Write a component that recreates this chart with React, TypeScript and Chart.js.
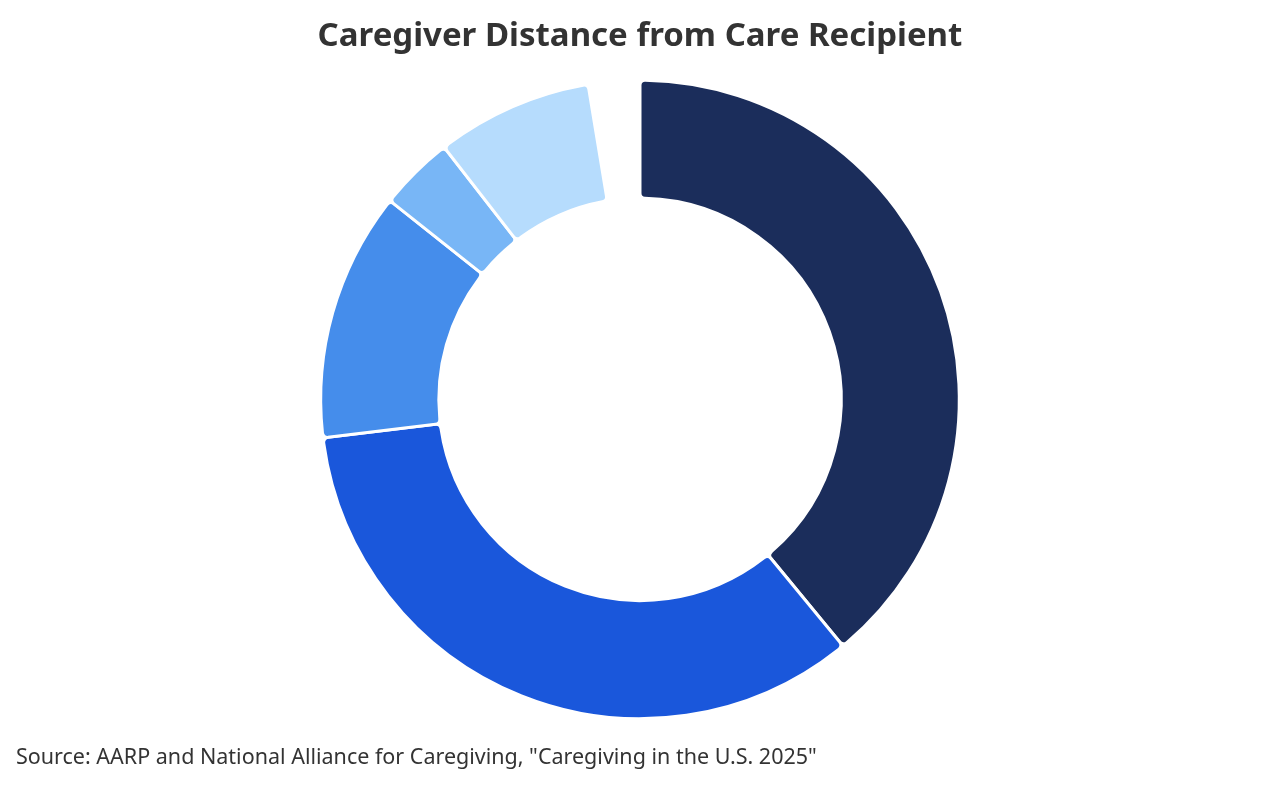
import React, { useEffect, useRef } from "react";
import { Chart, registerables } from "chart.js";

Chart.register(...registerables);

const categories = [
  "Live with care recipient",
  "Less than 20 minutes away",
  "20 minutes to 1 hour away",
  "1 to 2 hours away",
  "More than 2 hours away",
  "Not reported",
];
const shares = [39, 34, 12.6, 3.8, 7.9, 2.6];
const colors = ["#1B2D5B", "#1A57DB", "#458DEB", "#78B6F6", "#B6DCFD", "rgba(0,0,0,0)"];
const borderColors = ["#ffffff", "#ffffff", "#ffffff", "#ffffff", "#ffffff", "rgba(0,0,0,0)"];
const titleText = "Caregiver Distance from Care Recipient";
const sourceText = 'Source: AARP and National Alliance for Caregiving, "Caregiving in the U.S. 2025"';

export default function App() {
  const ref = useRef<HTMLCanvasElement | null>(null);
  useEffect(() => {
    document.body.style.margin = "0";
    const ctx = ref.current!;
    const chart = new Chart(ctx, {
      type: "doughnut",
      data: {
        labels: categories,
        datasets: [
          {
            data: shares,
            backgroundColor: colors,
            borderColor: borderColors,
            borderWidth: 3,
            borderRadius: 5,
          },
        ],
      },
      options: {
        animation: false,
        responsive: false,
        maintainAspectRatio: false,
        cutout: "63%",
        layout: { padding: { left: 16, right: 16, top: 0, bottom: 0 } },
        plugins: {
          legend: { display: false },
          tooltip: { enabled: false },
          title: {
            display: true,
            text: titleText,
            color: "#333333",
            font: { family: "'Noto Sans', 'Open Sans', sans-serif", size: 33, weight: "bold" },
            padding: { top: 17, bottom: 22 },
          },
          subtitle: {
            display: true,
            text: sourceText,
            position: "bottom",
            align: "start",
            color: "#333333",
            font: { family: "'Noto Sans', 'Open Sans', sans-serif", size: 21.5, weight: "normal" },
            padding: { top: 25, bottom: 17 },
          },
        },
      },
    });
    return () => chart.destroy();
  }, []);
  return (
    <div style={{ position: "relative", width: 1280, height: 788, background: "#ffffff" }}>
      <canvas ref={ref} width={1280} height={788} style={{ display: "block", width: 1280, height: 788 }} />
    </div>
  );
}
